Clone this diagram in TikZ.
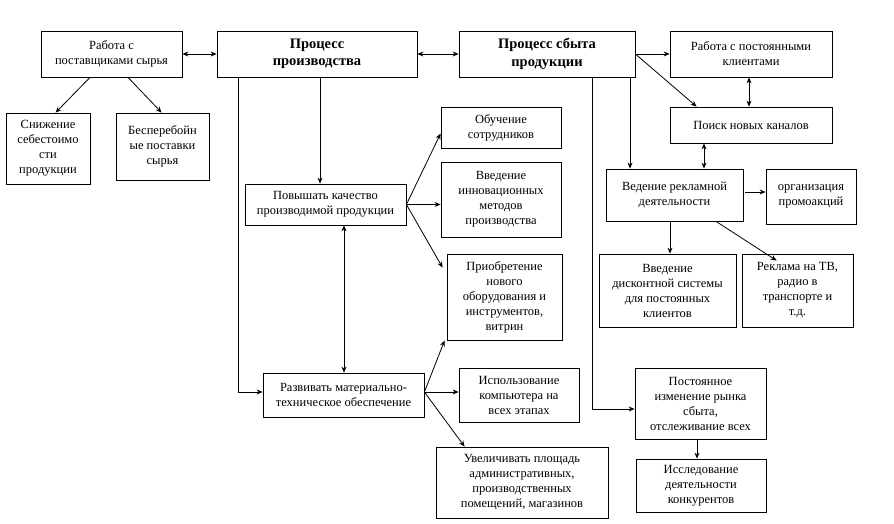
\documentclass[tikz,border=0pt]{standalone}
\usepackage{fontspec}
\setmainfont{Liberation Serif}
\usetikzlibrary{arrows.meta,calc}
\begin{document}
\begin{tikzpicture}[x=1pt,y=-1pt,
  box/.style={draw,line width=0.8pt,inner sep=1pt,align=center,font=\fontsize{12.5}{15}\selectfont},
  title/.style={box,font=\fontsize{14.5}{17.5}\selectfont\bfseries},
  arr/.style={line width=0.8pt,-{Stealth[length=6pt,width=5pt]}},
  darr/.style={line width=0.8pt,{Stealth[length=6pt,width=5pt]}-{Stealth[length=6pt,width=5pt]}},
  ln/.style={line width=0.8pt}]
\useasboundingbox (0,0) rectangle (894,524);
% boxes
\node[box,minimum width=141,minimum height=46] (rab1) at (111.5,54) {Работа с\\поставщиками сырья};
\node[title,minimum width=200,minimum height=46] (proizv) at (317,54) {Процесс\\производства};
\node[title,minimum width=176,minimum height=46] (sbyt) at (547,54) {Процесс сбыта\\продукции};
\node[box,minimum width=162,minimum height=46] (rab2) at (751,54) {Работа с постоянными\\клиентами};
\node[box,minimum width=84,minimum height=71] (snizh) at (48,148.5) {Снижение\\себестоимо\\сти\\продукции};
\node[box,minimum width=93,minimum height=67] (besper) at (162.5,146.5) {Бесперебойн\\ые поставки\\сырья};
\node[box,minimum width=162,minimum height=36] (poisk) at (751,125) {Поиск новых каналов};
\node[box,minimum width=120,minimum height=41] (obuch) at (501,127.5) {Обучение\\сотрудников};
\node[box,minimum width=120,minimum height=75] (innov) at (501,199.5) {Введение\\инновационных\\методов\\производства};
\node[box,minimum width=161,minimum height=41] (povysh) at (325.5,204.5) {Повышать качество\\производимой продукции};
\node[box,minimum width=115,minimum height=86] (priobr) at (504.5,297) {Приобретение\\нового\\оборудования и\\инструментов,\\витрин};
\node[box,minimum width=137,minimum height=52] (vedrek) at (674.5,195) {Ведение рекламной\\деятельности};
\node[box,minimum width=90,minimum height=55] (promo) at (811,196.5) {организация\\промоакций};
\node[box,minimum width=137,minimum height=73] (diskont) at (667.5,290.5) {Введение\\дисконтной системы\\для постоянных\\клиентов};
\node[box,minimum width=111,minimum height=73] (tv) at (797.5,290.5) {Реклама на ТВ,\\радио в\\транспорте и\\т.д.};
\node[box,minimum width=161,minimum height=44] (razviv) at (343.5,395) {Развивать материально-\\техническое обеспечение};
\node[box,minimum width=120,minimum height=54] (ispolz) at (519,395) {Использование\\компьютера на\\всех этапах};
\node[box,minimum width=172,minimum height=71] (uvel) at (522,482.5) {Увеличивать площадь\\административных,\\производственных\\помещений, магазинов};
\node[box,minimum width=131,minimum height=71] (post) at (700.5,403.5) {Постоянное\\изменение рынка\\сбыта,\\отслеживание всех};
\node[box,minimum width=130,minimum height=53] (issled) at (701,485.5) {Исследование\\деятельности\\конкурентов};
% helper coordinates
\coordinate (x90) at (90,0);
\coordinate (x128) at (128,0);
\coordinate (x238) at (238,0);
\coordinate (x320) at (320,0);
\coordinate (x344) at (344,0);
\coordinate (x592) at (592,0);
\coordinate (x630) at (630,0);
\coordinate (x670) at (670,0);
\coordinate (x697) at (697,0);
\coordinate (x704) at (704,0);
\coordinate (x716) at (716,0);
\coordinate (x749) at (749,0);
\coordinate (y192) at (0,192);
\coordinate (y392) at (0,392);
\coordinate (y409) at (0,409);
% connectors
\draw[darr] (rab1.east) -- (proizv.west);
\draw[darr] (proizv.east) -- (sbyt.west);
\draw[arr] (sbyt.east) -- (rab2.west);
\draw[arr] (sbyt.east) -- ($(poisk.north west)+(27,0)$);
\draw[darr] (rab2.south -| x749) -- (poisk.north -| x749);
\draw[darr] (poisk.south -| x704) -- (vedrek.north -| x704);
\draw[arr] (sbyt.south -| x630) -- (vedrek.north -| x630);
\draw[arr] (sbyt.south -| x592) |- (post.west |- y409);
\draw[arr] (post.south -| x697) -- (issled.north -| x697);
\draw[arr] ($(vedrek.east |- y192)+(2,0)$) -- (promo.west |- y192);
\draw[arr] (vedrek.south -| x670) -- (diskont.north -| x670);
\draw[arr] (vedrek.south -| x716) -- ($(tv.north west)+(35,7)$);
\draw[arr] (rab1.south -| x90) -- ($(snizh.north west)+(50,0)$);
\draw[arr] (rab1.south -| x128) -- ($(besper.north west)+(46,0)$);
\draw[arr] (proizv.south -| x320) -- (povysh.north -| x320);
\draw[arr] (proizv.south -| x238) |- (razviv.west |- y392);
\draw[darr] (povysh.south -| x344) -- (razviv.north -| x344);
\draw[arr] (povysh.east) -- ($(obuch.west)+(0,6)$);
\draw[arr] (povysh.east) -- (innov.west |- povysh.east);
\draw[arr] (povysh.east) -- ($(priobr.north west)+(-4,14)$);
\draw[arr] (razviv.east |- y392) -- ($(priobr.south west)+(-2,0)$);
\draw[arr] (razviv.east |- y392) -- (ispolz.west |- y392);
\draw[arr] (razviv.east |- y392) -- ($(uvel.north west)+(29,0)$);
\end{tikzpicture}
\end{document}
